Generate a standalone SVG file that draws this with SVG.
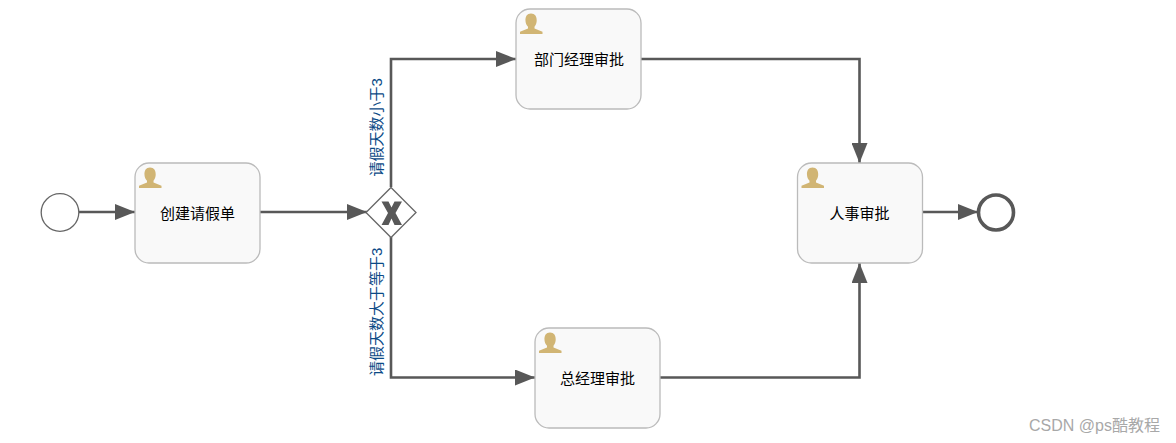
<svg xmlns="http://www.w3.org/2000/svg" width="1176" height="443" viewBox="0 0 1176 443">
<defs>
<style>
.task{fill:#f9f9f9;stroke:#bbb;stroke-width:1.3}
.t{font-family:"Liberation Sans","Noto Sans CJK SC",sans-serif;font-size:15px;fill:#000;text-anchor:middle}
.f{fill:none;stroke:#585858;stroke-width:2.6}
.lab{font-family:"Liberation Sans","Noto Sans CJK SC",sans-serif;font-size:15px;fill:#0b4a86}
.u{fill:#d1b574}
</style>
<marker id="arr" markerUnits="userSpaceOnUse" markerWidth="21" markerHeight="16" refX="20" refY="8" orient="auto"><path d="M0 0L20 8L0 16Z" fill="#585858"/></marker>
<symbol id="user" overflow="visible"><path class="u" d="M10.500 0C14.500 0 16.500 3 16.200 7.500C16 10 15.200 11.500 14 13.200V15L22 18.300V20.500H-0.500V18.300L7.500 15V13.200C6 11.500 5.200 10 5 7.500C4.700 3 6.500 0 10.500 0Z"/></symbol>
</defs>
<rect width="1176" height="443" fill="#fff"/>
<g id="connectors">
<path class="f" d="M79 212H135" marker-end="url(#arr)"/>
<path class="f" d="M260 212H367" marker-end="url(#arr)"/>
<path class="f" d="M391 187V59H516" marker-end="url(#arr)"/>
<path class="f" d="M391 237V377.500H535" marker-end="url(#arr)"/>
<path class="f" d="M641 59H859.500V163" marker-end="url(#arr)"/>
<path class="f" d="M660 377.500H859.500V263" marker-end="url(#arr)"/>
<path class="f" d="M922 212H978" marker-end="url(#arr)"/>
<text class="lab" transform="translate(382 176.500) rotate(-90)">请假天数小于3</text>
<text class="lab" transform="translate(382 376) rotate(-90)">请假天数大于等于3</text>
</g>
<g id="start"><circle cx="60" cy="212.500" r="18.800" fill="#fff" stroke="#666" stroke-width="1.3"/></g>
<g id="task-create"><rect class="task" x="135" y="163" width="125" height="100" rx="14"/><use href="#user" x="139.500" y="167.500"/><text class="t" x="197.500" y="219">创建请假单</text></g>
<g id="gateway"><path d="M391 187.500L416 212.500L391 237.500L366 212.500Z" fill="#fff" stroke="#666" stroke-width="1.3"/><path d="M381.500 201.500H388.500L391.500 207.500L394.500 201.500H402L395.500 213L402 225H394.500L391.500 218.500L388.500 225H381.500L388 213Z" fill="#585858"/></g>
<g id="task-dept"><rect class="task" x="516" y="9" width="125" height="100" rx="14"/><use href="#user" x="520.500" y="13.500"/><text class="t" x="579" y="64.500">部门经理审批</text></g>
<g id="task-gm"><rect class="task" x="535" y="328" width="125" height="100" rx="14"/><use href="#user" x="539.500" y="332.500"/><text class="t" x="597.500" y="384">总经理审批</text></g>
<g id="task-hr"><rect class="task" x="797.500" y="163" width="125" height="100" rx="14"/><use href="#user" x="802" y="167.500"/><text class="t" x="859.500" y="219">人事审批</text></g>
<g id="end"><circle cx="996" cy="212.500" r="17.500" fill="#fff" stroke="#585858" stroke-width="3.600"/></g>
<text x="1029" y="431" font-family="'Liberation Sans','Noto Sans CJK SC',sans-serif" font-size="16" fill="#a8a8a8">CSDN @ps酷教程</text>
</svg>
